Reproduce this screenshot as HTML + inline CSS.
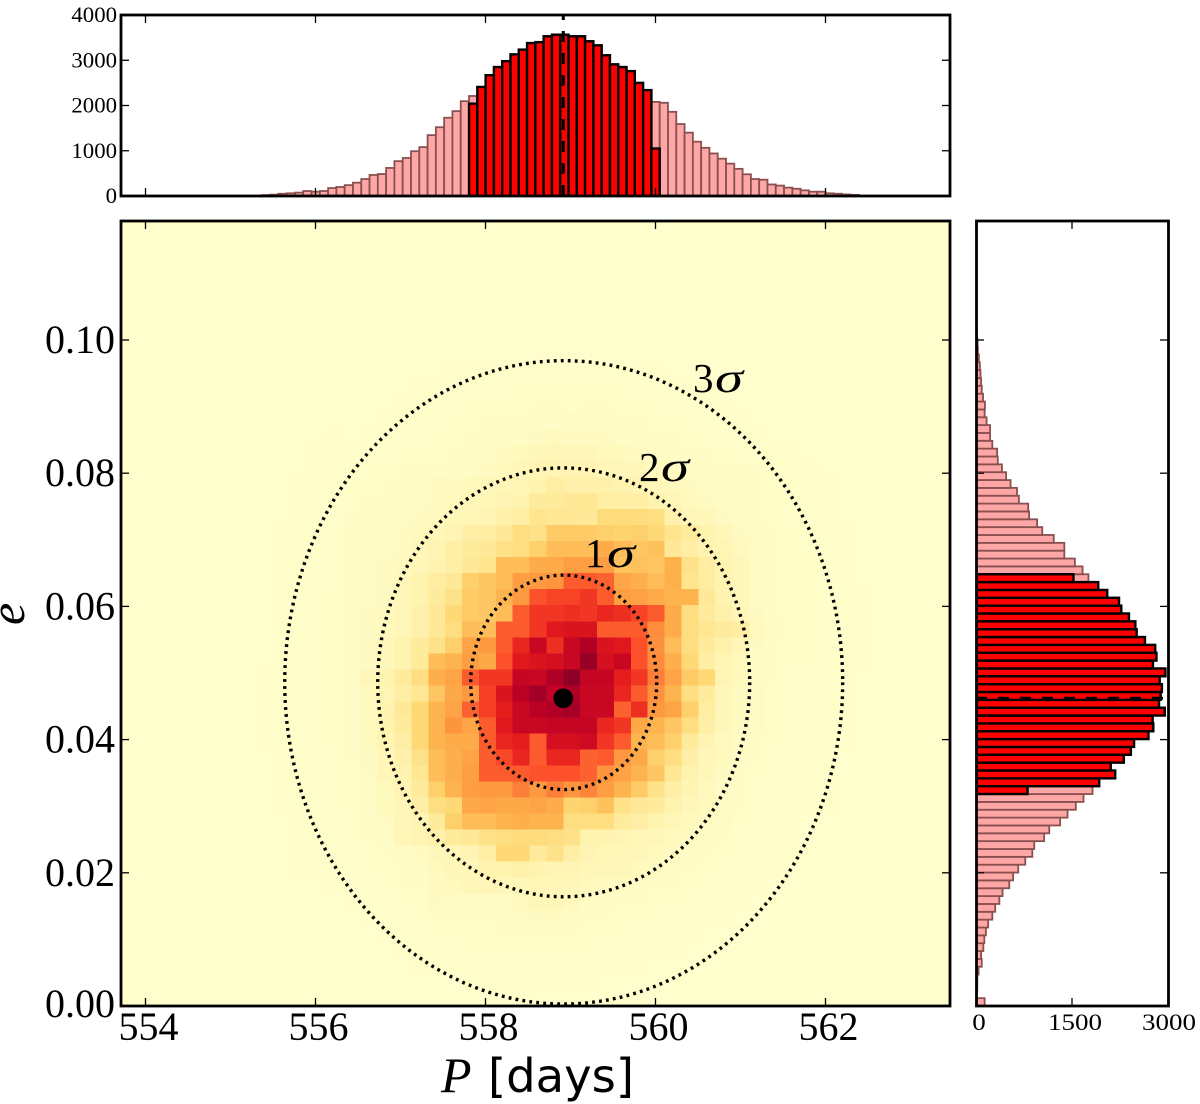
<!DOCTYPE html>
<html lang="en">
<head>
<meta charset="utf-8">
<title>P vs e posterior</title>
<style>
html,body{margin:0;padding:0;background:#fff;}
body{width:1200px;height:1104px;overflow:hidden;}
svg{display:block;}
text{font-family:"Liberation Serif",serif;fill:#000;}
</style>
</head>
<body>
<svg id="chart" xmlns="http://www.w3.org/2000/svg" width="1200" height="1104" viewBox="0 0 1200 1104">
  <defs>
    <clipPath id="clip-main"><rect x="121" y="221" width="829" height="785"/></clipPath>
    <clipPath id="clip-top"><rect x="121" y="15" width="829" height="181"/></clipPath>
    <clipPath id="clip-right"><rect x="976" y="221" width="192" height="785"/></clipPath>
  </defs>
  <rect id="main-bg" x="121" y="221" width="829" height="785"/>
  <g id="heat" clip-path="url(#clip-main)" shape-rendering="crispEdges"></g>
  <g id="contours" clip-path="url(#clip-main)"></g>
  <g id="top-bars" clip-path="url(#clip-top)"></g>
  <g id="right-bars" clip-path="url(#clip-right)"></g>
  <g id="ticks"></g>
  <g id="tick-labels"></g>
  <rect x="121" y="221" width="829" height="785" fill="none" stroke="#000" stroke-width="2.8"/>
  <rect x="121" y="15" width="829" height="181" fill="none" stroke="#000" stroke-width="2.8"/>
  <rect x="976.5" y="221" width="192" height="785" fill="none" stroke="#000" stroke-width="2.8"/>
  <g>
    <text x="693" y="392" font-size="41">3</text>
    <text x="715" y="392" font-size="42" font-style="italic" textLength="28" lengthAdjust="spacingAndGlyphs">σ</text>
  </g>
  <g>
    <text x="639" y="481" font-size="41">2</text>
    <text x="661" y="481" font-size="42" font-style="italic" textLength="28" lengthAdjust="spacingAndGlyphs">σ</text>
  </g>
  <g>
    <text x="585" y="567" font-size="41">1</text>
    <text x="607" y="567" font-size="42" font-style="italic" textLength="28" lengthAdjust="spacingAndGlyphs">σ</text>
  </g>
  <text x="441" y="1092" font-size="50" font-style="italic">P</text>
  <text x="488" y="1092" font-size="46.5" style="font-family:'DejaVu Sans',sans-serif">[days]</text>
  <text transform="translate(24,625) rotate(-90)" font-size="50" font-style="italic">e</text>
</svg>
<script>
// ---- period histogram (counts per bin, 100 bins across the P axis)
var topTotal = [0,0,0,0,0,0,0,0,0,0,0,0,0,0,0,0,0,
  20,30,50,60,75,110,95,110,175,200,240,295,375,465,485,620,770,840,990,1080,1345,1520,1730,1875,2095,2210,
  2410,2670,2850,2980,3130,3235,3380,3400,3530,3565,3565,3530,3530,3420,3330,3110,2910,2850,2760,2500,2340,
  2080,2060,1860,1590,1400,1200,1065,940,825,715,600,480,375,360,255,230,185,160,125,95,95,60,50,35,25,
  0,0,0,0,0,0,0,0,0,0,0];
var topSigma = [0,0,0,0,0,0,0,0,0,0,0,0,0,0,0,0,0,
  0,0,0,0,0,0,0,0,0,0,0,0,0,0,0,0,0,0,0,0,0,0,0,0,0,2040,
  2410,2670,2850,2980,3130,3235,3380,3400,3530,3565,3565,3530,3530,3420,3330,3110,2910,2850,2760,2500,2340,
  1050,0,0,0,0,0,0,0,0,0,0,0,0,0,0,0,0,0,0,0,0,0,0,0,0,
  0,0,0,0,0,0,0,0,0,0,0];

// ---- eccentricity histogram (counts per bin, bottom to top)
var rightTotal = [135,10,20,20,40,90,80,115,130,155,190,255,300,365,415,520,580,660,770,880,910,1065,1145,1315,1430,1560,1680,1820,
  1925,2175,2105,2310,2420,2470,2695,2770,2760,2950,2860,2885,2905,2870,2960,2765,2820,2800,2640,2510,2490,2390,2270,2235,2050,1910,
  1757,1665,1545,1380,1380,1215,1035,955,830,815,670,640,540,470,405,340,330,255,220,220,165,135,140,110,90,80,70,60,45,30,25,15,10,8,
  0,0,0,0,0,0,0,0,0,0,0,0];
var rightSigma = [0,0,0,0,0,0,0,0,0,0,0,0,0,0,0,0,0,0,0,0,0,0,0,0,0,0,0,805,
  1925,2175,2105,2310,2420,2470,2695,2770,2760,2950,2860,2885,2905,2870,2960,2765,2820,2800,2640,2510,2490,2390,2270,2235,2050,1910,
  1523,0,0,0,0,0,0,0,0,0,0,0,0,0,0,0,0,0,0,0,0,0,0,0,0,0,0,0,0,0,0,0,0,0,0,0,0,0,
  0,0,0,0,0,0,0,0,0,0,0,0];

// ---- 2-D density levels (0-100), rows top to bottom
var heatLevels = [
[0,0,0,0,0,0, 0,0,0,0,0,0,0,0,0,0,0,0,0,0,0,0,0,0,0,0,0,0,0,0,0,0, 0,0,0,0,0,0],
[0,0,0,0,0,0, 0,0,0,0,0,0,1,1,1,1,1,1,1,1,1,1,1,1,1,0,0,0,0,0,0,0, 0,0,0,0,0,0],
[0,0,0,0,0,0, 0,0,0,0,1,1,1,1,1,1,2,2,2,2,2,2,2,1,1,1,1,1,0,0,0,0, 0,0,0,0,0,0],
[0,0,0,0,0,0, 0,0,0,1,1,1,1,2,2,2,2,3,3,2,3,3,2,2,2,1,1,1,1,0,0,0, 0,0,0,0,0,0],
[0,0,0,0,0,0, 0,0,1,1,1,1,2,2,3,3,3,4,4,4,4,4,3,3,2,2,2,1,1,1,0,0, 0,0,0,0,0,0],
[0,0,0,0,0,1, 0,1,1,1,1,2,2,3,3,4,4,5,6,5,5,5,4,4,3,3,2,2,1,1,1,0, 0,0,0,0,0,0],
[0,0,0,0,1,1, 1,1,1,2,2,2,3,3,4,5,6,7,8,7,7,6,6,5,4,4,3,3,2,2,1,1, 1,0,0,0,0,0],
[0,0,0,0,1,1, 2,2,2,3,3,3,4,4,5,6,8,9,9,9,9,8,7,7,6,5,4,4,3,3,3,2, 1,1,0,0,0,0],
[0,0,0,1,1,1, 2,2,3,3,4,5,5,6,7,8,9,10,13,11,11,11,10,9,8,6,5,4,4,3,3,2, 2,1,1,0,0,0],
[0,0,0,1,1,1, 2,3,3,4,4,5,6,7,8,9,10,14,14,15,16,13,12,12,10,8,6,5,4,4,3,2, 2,1,1,0,0,0],
[0,0,0,1,1,1, 3,3,3,4,5,6,7,8,9,11,12,17,16,16,15,21,21,21,20,11,8,7,5,4,3,2, 2,1,1,0,0,0],
[0,0,1,1,1,2, 3,3,4,5,6,8,9,12,13,15,20,18,25,25,25,24,23,24,22,17,14,10,8,5,4,3, 2,2,1,1,0,0],
[0,0,1,1,1,2, 3,4,4,5,7,9,12,14,15,18,20,24,28,28,28,33,28,26,27,15,12,10,9,6,4,3, 2,2,1,1,0,0],
[0,0,1,1,1,2, 3,4,5,6,8,10,12,15,17,28,28,33,33,38,38,38,27,27,26,31,18,13,10,7,4,3, 2,2,1,1,0,0],
[0,0,1,1,1,2, 3,4,5,7,10,13,15,24,26,28,38,40,42,60,60,58,35,32,28,31,17,13,10,7,4,3, 2,2,1,1,0,0],
[0,0,1,1,2,2, 3,4,5,7,10,14,18,25,26,30,40,62,65,65,68,60,38,37,33,30,30,15,10,7,4,3, 2,2,1,1,1,0],
[0,0,1,1,2,2, 4,5,6,8,11,15,22,25,26,28,60,68,68,70,68,72,70,65,60,33,20,14,11,8,5,3, 2,2,1,1,1,0],
[0,0,1,1,2,2, 4,5,6,8,11,15,20,28,28,60,60,68,76,78,78,60,60,60,46,33,20,16,14,13,6,4, 2,2,1,1,1,0],
[0,0,1,1,2,2, 4,5,7,10,14,18,24,36,40,60,72,84,70,84,90,78,76,62,44,28,20,14,11,8,5,3, 2,2,1,1,1,0],
[0,0,1,1,2,2, 4,5,7,10,14,28,30,38,34,62,76,78,80,84,95,80,84,62,46,32,22,12,9,6,4,3, 2,2,1,1,1,0],
[0,1,1,1,2,2, 4,7,10,14,20,32,36,60,68,68,85,84,90,97,85,85,74,68,50,36,25,22,9,6,4,3, 2,1,1,1,0,0],
[0,1,1,1,2,2, 3,6,9,12,16,26,34,40,66,78,88,93,86,90,84,84,72,60,44,30,20,14,7,5,4,2, 2,1,1,1,0,0],
[0,1,1,1,2,2, 3,6,10,15,22,30,36,58,66,74,84,88,90,92,84,84,58,70,40,36,24,13,7,5,4,2, 2,1,1,1,0,0],
[0,1,1,1,2,2, 3,6,10,14,22,30,42,36,60,76,84,84,85,85,85,72,68,34,30,26,20,12,7,5,4,2, 2,1,1,1,0,0],
[0,1,1,1,2,2, 3,6,9,12,22,30,33,33,60,72,74,60,80,80,82,68,60,30,28,24,14,9,6,4,3,2, 2,1,1,1,0,0],
[0,0,1,1,1,2, 3,5,8,11,18,28,32,36,60,64,72,60,72,72,58,60,40,34,24,20,12,8,6,4,3,2, 1,1,1,0,0,0],
[0,0,1,1,1,2, 2,5,8,10,16,28,32,38,60,60,60,62,62,62,58,42,36,30,26,16,10,7,5,3,2,2, 1,1,1,0,0,0],
[0,0,1,1,1,2, 2,4,6,9,14,24,30,38,40,40,50,40,50,42,48,38,30,25,18,12,9,6,4,3,2,1, 1,1,1,0,0,0],
[0,0,1,1,1,2, 2,4,6,8,12,20,22,34,36,34,34,36,33,23,24,27,18,15,14,10,8,6,4,3,2,1, 1,1,1,0,0,0],
[0,0,0,1,1,1, 2,3,5,7,9,14,24,28,28,30,32,30,30,20,20,20,14,12,10,8,6,5,4,2,2,1, 1,0,0,0,0,0],
[0,0,0,1,1,1, 2,3,4,8,9,11,14,15,18,20,21,21,20,18,10,10,9,8,7,6,5,4,3,2,1,1, 1,0,0,0,0,0],
[0,0,0,1,1,1, 1,2,3,4,5,7,8,9,12,22,22,14,18,12,9,8,8,7,6,5,4,3,2,2,1,1, 1,0,0,0,0,0],
[0,0,0,1,1,1, 1,2,2,3,4,6,7,8,10,10,11,10,9,9,8,7,7,6,5,4,3,2,2,1,1,1, 0,0,0,0,0,0],
[0,0,0,0,0,1, 1,1,2,3,3,5,6,7,8,7,7,8,8,7,6,5,5,4,3,3,2,2,1,1,1,0, 0,0,0,0,0,0],
[0,0,0,0,0,0, 1,1,1,2,2,5,4,4,4,4,6,7,7,6,4,3,3,3,2,2,2,1,1,1,0,0, 0,0,0,0,0,0],
[0,0,0,0,0,0, 0,1,1,1,2,3,3,3,3,3,4,5,5,4,3,3,2,2,2,1,1,1,1,0,0,0, 0,0,0,0,0,0],
[0,0,0,0,0,0, 0,0,1,1,1,2,2,2,2,3,3,3,3,3,2,2,2,1,1,1,1,0,0,0,0,0, 0,0,0,0,0,0],
[0,0,0,0,0,0, 0,0,0,1,1,1,1,2,2,2,2,2,2,2,2,1,1,1,1,1,0,0,0,0,0,0, 0,0,0,0,0,0],
[0,0,0,0,0,0, 0,0,0,0,1,1,1,1,1,1,1,1,1,1,1,1,1,1,0,0,0,0,0,0,0,0, 0,0,0,0,0,0],
[0,0,0,0,0,0, 0,0,0,0,0,0,0,1,1,1,1,1,1,1,1,0,0,0,0,0,0,0,0,0,0,0, 0,0,0,0,0,0]
];

// ---- best-fit values and contour scales
var bestP = [558.915];
var bestE = [0.0462];
var centreP = [558.92];
var centreE = [0.0486];
var sigmaP = [1.094];
var sigmaE = [0.0161];
var sigmaLevels = [1, 2, 3];

// ---- tick labels
var xTicks = [554, 556, 558, 560, 562];
var yTicks = ["0.00", "0.02", "0.04", "0.06", "0.08", "0.10"];
var topCountTicks = [0, 1000, 2000, 3000, 4000];
var rightCountTicks = [0, 1500, 3000];

// ---- bin layout
var histBinP = 0.09753, histStartP = 553.71, histBinE = 0.0011787;
var heatBinP = 0.19859, heatStartP = 555.142;
var heatBinE = 0.002407, heatTopRowsFromZero = 41;

// ---- axis functions
function xMain(p) { return 145.5 + (p - 554) * 85; }
function yMain(e) { return 1006 - e * 6660; }
function yTop(c) { return 196 - c * 0.04525; }
function xRight(c) { return 976 + c * 0.064; }

var NS = "http://www.w3.org/2000/svg";
function make(tag, parent, props) {
  var n = document.createElementNS(NS, tag);
  for (var k in props) n.setAttribute(k, props[k]);
  parent.appendChild(n);
  return n;
}

var stops = [[255,254,204],[255,237,160],[254,217,118],[254,178,76],[253,141,60],[252,78,42],[227,26,28],[189,0,38],[128,0,38]];
var levelCurve = [[0,0],[4,0.02],[10,0.08],[20,0.22],[30,0.37],[40,0.46],[60,0.6],[100,1]];
function normLevel(v) {
  for (var i = 1; i < levelCurve.length; i++) {
    if (v <= levelCurve[i][0]) {
      var a = levelCurve[i - 1], b = levelCurve[i];
      return a[1] + (b[1] - a[1]) * (v - a[0]) / (b[0] - a[0]);
    }
  }
  return 1;
}
function levelColor(v) {
  var t = normLevel(Math.max(0, v)) * (stops.length - 1);
  var i = Math.min(stops.length - 2, Math.floor(t)), f = t - i;
  var a = stops[i], b = stops[i + 1];
  return "rgb(" + Math.round(a[0] + (b[0] - a[0]) * f) + "," + Math.round(a[1] + (b[1] - a[1]) * f) + "," + Math.round(a[2] + (b[2] - a[2]) * f) + ")";
}

document.getElementById("main-bg").setAttribute("fill", levelColor(0));

// heatmap
var heatG = document.getElementById("heat");
heatLevels.forEach(function (row, r) {
  row.forEach(function (v, c) {
    if (v <= 0) return;
    var p0 = heatStartP + c * heatBinP, p1 = p0 + heatBinP;
    var e1 = (heatTopRowsFromZero - r) * heatBinE, e0 = e1 - heatBinE;
    var el = make("rect", heatG, { x: xMain(p0), y: yMain(e1), width: xMain(p1) - xMain(p0), height: yMain(e0) - yMain(e1), fill: levelColor(v) });
    
    
  });
});

// contours
var contourG = document.getElementById("contours");
sigmaLevels.forEach(function (s) {
  var el = make("ellipse", contourG, {
    cx: xMain(centreP[0]), cy: yMain(centreE[0]),
    rx: xMain(centreP[0] + s * sigmaP[0]) - xMain(centreP[0]),
    ry: yMain(centreE[0]) - yMain(centreE[0] + s * sigmaE[0]),
    fill: "none", stroke: "#000", "stroke-width": 3.4, "stroke-dasharray": "2.8 4.2"
  });
  
  
});
var dot = make("circle", contourG, { cx: xMain(bestP[0]), cy: yMain(bestE[0]), r: 9.8, fill: "#000" });



// period histogram
var topG = document.getElementById("top-bars");
topTotal.forEach(function (c, i) {
  if (c <= 0) return;
  var x0 = xMain(histStartP + i * histBinP), x1 = xMain(histStartP + (i + 1) * histBinP);
  var el = make("rect", topG, { x: x0, y: yTop(c), width: x1 - x0, height: yTop(0) - yTop(c), fill: "#ffa6a6", stroke: "#8a5050", "stroke-width": 1.8 });
  
  
});
topSigma.forEach(function (c, i) {
  if (c <= 0) return;
  var x0 = xMain(histStartP + i * histBinP), x1 = xMain(histStartP + (i + 1) * histBinP);
  var el = make("rect", topG, { x: x0, y: yTop(c), width: x1 - x0, height: yTop(0) - yTop(c), fill: "#ff0000", stroke: "#000", "stroke-width": 2.4 });
  
  
});
var vDash = make("line", topG, { x1: xMain(bestP[0]), x2: xMain(bestP[0]), y1: yTop(0), y2: 15, stroke: "#000", "stroke-width": 3, "stroke-dasharray": "11 11" });



// eccentricity histogram
var rightG = document.getElementById("right-bars");
rightTotal.forEach(function (c, j) {
  if (c <= 0) return;
  var y1 = yMain(j * histBinE), y0 = yMain((j + 1) * histBinE);
  var el = make("rect", rightG, { x: xRight(0), y: y0, width: xRight(c) - xRight(0), height: y1 - y0, fill: "#ffa6a6", stroke: "#8a5050", "stroke-width": 1.8 });
  
  
});
rightSigma.forEach(function (c, j) {
  if (c <= 0) return;
  var y1 = yMain(j * histBinE), y0 = yMain((j + 1) * histBinE);
  var el = make("rect", rightG, { x: xRight(0), y: y0, width: xRight(c) - xRight(0), height: y1 - y0, fill: "#ff0000", stroke: "#000", "stroke-width": 2.4 });
  
  
});
var hDash = make("line", rightG, { x1: xRight(0), x2: 1169, y1: yMain(bestE[0]), y2: yMain(bestE[0]), stroke: "#000", "stroke-width": 3, "stroke-dasharray": "11 11" });



// ticks
var tickG = document.getElementById("ticks");
function tick(x1, y1, x2, y2) {
  var el = make("line", tickG, { x1: x1, y1: y1, x2: x2, y2: y2, stroke: "#000", "stroke-width": 1.3 });
  
  
}
var labelG = document.getElementById("tick-labels");
function label(txt, x, y, size, anchor, len) {
  var props = { x: x, y: y, "font-size": size, "text-anchor": anchor };
  if (len) { props.textLength = len; props.lengthAdjust = "spacingAndGlyphs"; }
  var el = make("text", labelG, props);
  el.textContent = txt;
  
  
}

xTicks.forEach(function (p) {
  var x = xMain(p);
  tick(x, 1006, x, 998); tick(x, 221, x, 229);
  tick(x, 196, x, 188); tick(x, 15, x, 23);
  label(String(p), x + 3, 1040, 40, "middle");
});
yTicks.forEach(function (t, i) {
  var y = yMain(parseFloat(t));
  tick(121, y, 129, y); tick(950, y, 942, y);
  tick(976, y, 984, y); tick(1168, y, 1160, y);
  label(t, 115, i === 0 ? 1017 : y + 13, 40, "end", 70);
});
topCountTicks.forEach(function (c) {
  var y = yTop(c);
  tick(121, y, 129, y); tick(950, y, 942, y);
  label(String(c), 117, c === 0 ? 203 : y + 7, 22.5, "end", String(c).length * 11.4);
});
rightCountTicks.forEach(function (c) {
  var x = xRight(c);
  tick(x, 1006, x, 998); tick(x, 221, x, 229);
  label(String(c), c === 0 ? 979 : x + (c === 3000 ? 1 : 3), 1030, 23, "middle", String(c).length * 13.5);
});
</script>
</body>
</html>
